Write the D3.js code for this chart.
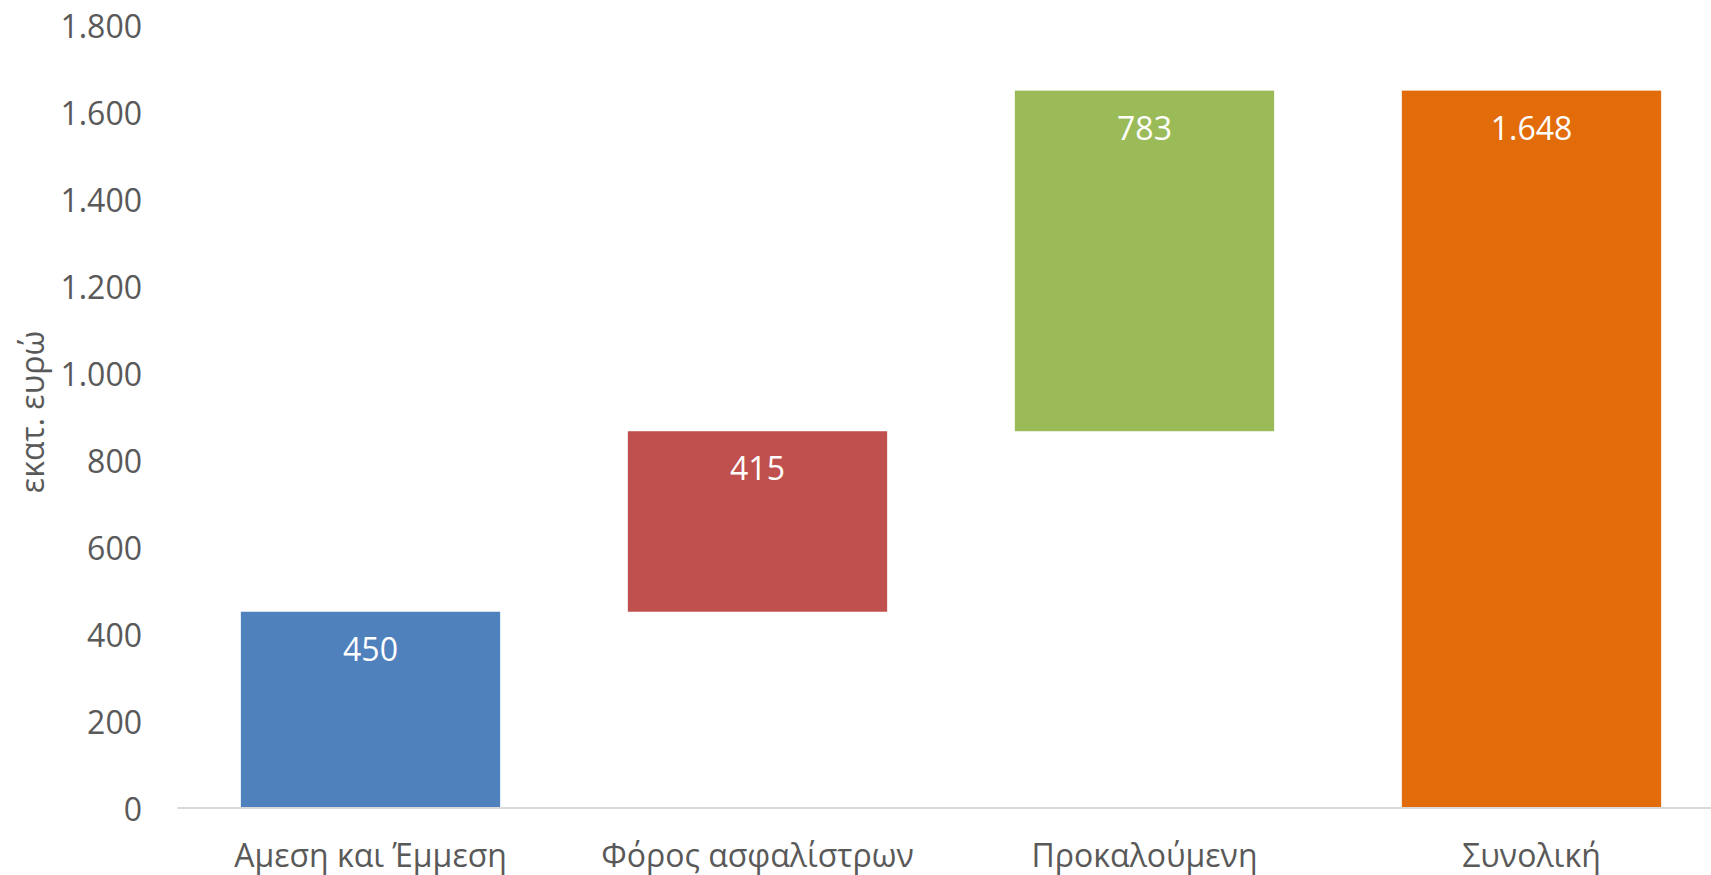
<!DOCTYPE html>
<html>
<head>
<meta charset="utf-8">
<script src="https://cdn.jsdelivr.net/npm/d3@7"></script>
<style>
  body { margin: 0; background: #fff; }
  text { font-family: "Open Sans", "Noto Sans", sans-serif; }
</style>
</head>
<body>
<svg id="chart" width="1711" height="875"></svg>
<script>
// waterfall data (εκατ. ευρώ)
var categories = ["Αμεση και Έμμεση", "Φόρος ασφαλίστρων", "Προκαλούμενη", "Συνολική"];
var values = [450, 415, 783, 1648];
var isTotal = [false, false, false, true];
var colors = ["#4F81BD", "#C0504D", "#9BBB59", "#E36C0A"];
var yTicks = [0, 200, 400, 600, 800, 1000, 1200, 1400, 1600, 1800];

var svg = d3.select("#chart"),
    margin = {top: 24.5, right: -14, bottom: 67.5, left: 177},
    width = +svg.attr("width") - margin.left - margin.right,
    height = +svg.attr("height") - margin.top - margin.bottom;

// running start for each step of the waterfall
var run = 0;
var data = categories.map(function(c, i) {
  var start = isTotal[i] ? 0 : run;
  if (!isTotal[i]) run += values[i];
  return {name: c, value: values[i], start: start, end: start + values[i], color: colors[i]};
});

var x = d3.scaleBand().domain(categories).range([0, width])
    .paddingInner(0.33).paddingOuter(0.165);
var y = d3.scaleLinear().domain([0, 1800]).range([height, 0]);

var fmt = function(v) { return d3.format(",")(v).replace(/,/g, "."); };

var g = svg.append("g")
    .attr("transform", "translate(" + margin.left + "," + margin.top + ")");

// y axis labels, no line
var yAxis = g.append("g")
    .call(d3.axisLeft(y).tickValues(yTicks).tickSize(0).tickPadding(35).tickFormat(fmt));
yAxis.select(".domain").remove();
yAxis.selectAll("text")
    .attr("dy", "0.42em")
    .style("font-size", "32px")
    .style("font-family", "'Open Sans', sans-serif")
    .attr("fill", "#595959");

g.selectAll(".bar")
  .data(data)
  .enter().append("rect")
    .attr("class", "bar")
    .attr("x", function(d) { return x(d.name); })
    .attr("y", function(d) { return y(d.end); })
    .attr("width", x.bandwidth())
    .attr("height", function(d) { return y(d.start) - y(d.end); })
    .attr("fill", function(d) { return d.color; });

g.selectAll(".lbl")
  .data(data)
  .enter().append("text")
    .attr("class", "lbl")
    .attr("x", function(d) { return x(d.name) + x.bandwidth() / 2; })
    .attr("y", function(d) { return y(d.end) + 38; })
    .attr("dy", "0.35em")
    .attr("text-anchor", "middle")
    .attr("fill", "#fff")
    .style("font-size", "32px")
    .text(function(d) { return fmt(d.value); });

// x axis
var xAxis = g.append("g")
    .attr("transform", "translate(0," + height + ")")
    .call(d3.axisBottom(x).tickSize(0).tickPadding(37));
xAxis.select(".domain").attr("stroke", "#D9D9D9").attr("stroke-width", 2);
xAxis.selectAll("text")
    .style("font-size", "32px")
    .style("font-family", "'Open Sans', sans-serif")
    .attr("fill", "#595959");

svg.append("text")
    .attr("transform", "translate(33," + (margin.top + height / 2 - 4) + ") rotate(-90)")
    .attr("text-anchor", "middle")
    .attr("dy", "0.35em")
    .attr("fill", "#595959")
    .style("font-size", "32px")
    .text("εκατ. ευρώ");
</script>
</body>
</html>
